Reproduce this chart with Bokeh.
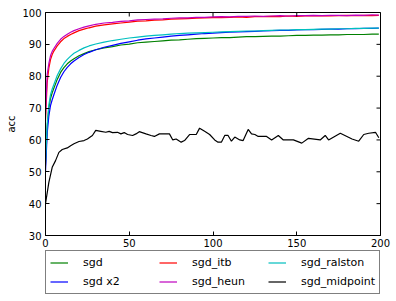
import math
from bokeh.plotting import figure
from bokeh.models import Legend, LegendItem, FixedTicker
from bokeh.layouts import column
from bokeh.embed import file_html
from bokeh.resources import INLINE

# ---- data ----
epochs = [0, 1, 2, 3, 4, 5, 7, 9, 11, 13, 15, 17, 20, 23, 26, 30, 35, 40, 45, 50,
          55, 60, 65, 70, 75, 80, 85, 90, 95, 100, 105, 110, 115, 120, 125, 130, 135,
          140, 145, 150, 155, 160, 165, 170, 175, 180, 185, 190, 195, 199]

sgd = [52, 64, 70, 73, 74.8, 76.2, 79.0, 81.2, 82.7, 83.9, 84.8, 85.5, 86.4, 87.1, 87.7,
       88.3, 88.9, 89.3, 89.8, 90.1, 90.5, 90.7, 90.9, 91.1, 91.3, 91.4, 91.6, 91.8, 91.9,
       92.0, 92.1, 92.1, 92.3, 92.4, 92.4, 92.5, 92.6, 92.6, 92.7, 92.8, 92.8, 92.9, 92.9,
       93.0, 93.0, 93.1, 93.1, 93.1, 93.2, 93.2]

sgd_x2 = [50, 62, 67.5, 70.8, 72.6, 74.2, 77.2, 79.6, 81.4, 82.8, 83.9, 84.8, 85.9, 86.8,
          87.5, 88.3, 89.1, 89.7, 90.3, 90.8, 91.3, 91.7, 92.0, 92.3, 92.6, 92.8, 93.0,
          93.2, 93.4, 93.5, 93.7, 93.8, 93.9, 94.0, 94.1, 94.2, 94.3, 94.4, 94.4, 94.5,
          94.6, 94.6, 94.7, 94.8, 94.8, 94.9, 94.9, 95.0, 95.0, 95.1]

sgd_itb = [66, 78, 82.5, 85.2, 86.8, 87.9, 89.5, 90.8, 91.8, 92.5, 93.1, 93.6, 94.3, 94.8,
           95.2, 95.7, 96.1, 96.4, 96.7, 97.0, 97.3, 97.4, 97.6, 97.7, 97.9, 98.0, 98.1,
           98.2, 98.3, 98.4, 98.4, 98.5, 98.6, 98.5, 98.7, 98.7, 98.8, 98.7, 98.9, 98.8,
           98.9, 98.9, 99.0, 98.9, 99.0, 99.1, 99.0, 99.1, 99.0, 99.1]

sgd_heun = [68, 80.5, 84, 86.5, 87.8, 88.7, 90.3, 91.6, 92.5, 93.2, 93.8, 94.3, 94.9, 95.4,
            95.8, 96.3, 96.7, 96.9, 97.2, 97.4, 97.7, 97.8, 97.9, 98.0, 98.2, 98.3, 98.3,
            98.5, 98.5, 98.6, 98.7, 98.6, 98.8, 98.8, 98.9, 98.8, 98.9, 99.0, 98.9, 99.0,
            99.0, 99.1, 99.0, 99.1, 99.1, 99.0, 99.2, 99.1, 99.3, 99.2]

sgd_ralston = [53, 65, 71, 74.2, 76, 77.4, 80.2, 82.3, 84.0, 85.3, 86.3, 87.2, 88.1, 88.9,
               89.5, 90.1, 90.7, 91.2, 91.6, 92.0, 92.3, 92.6, 92.8, 93.0, 93.2, 93.4, 93.5,
               93.6, 93.7, 93.8, 93.9, 94.0, 94.1, 94.2, 94.2, 94.3, 94.4, 94.5, 94.5, 94.6,
               94.6, 94.7, 94.8, 94.8, 94.9, 94.9, 95.0, 95.0, 95.1, 95.1]

mid_epochs = [0, 2, 4, 6, 8, 10, 13, 15, 17, 20, 23, 25, 28, 30, 33, 36, 38, 40, 43, 45, 47,
              49, 52, 54, 56, 60, 63, 65, 68, 71, 74, 76, 78, 81, 83, 86, 90, 92, 95, 98,
              101, 103, 105, 107, 109, 111, 113, 116, 118, 121, 123, 125, 127, 129, 132,
              135, 139, 142, 148, 153, 157, 164, 167, 169, 176, 183, 187, 190, 193, 197, 199]
sgd_midpoint = [40, 46.7, 51.4, 53.5, 56.1, 57, 57.5, 58.2, 58.8, 59.5, 59.8, 60.3, 61.4, 63,
                62.7, 62.4, 62.7, 62.3, 62.4, 61.9, 62.3, 61.7, 61.4, 61.9, 62.6, 61.9, 61.4,
                61.1, 61.9, 61.9, 61.9, 60, 60.3, 59.3, 59.8, 61.7, 61.7, 63.7, 62.7, 61.7,
                60, 59.3, 59.3, 61.4, 61.4, 59.6, 60.9, 60, 59.8, 63.3, 61.9, 61.7, 61.1,
                61.1, 61.1, 60, 61.4, 60, 60, 59, 60.5, 60, 61.4, 60, 62.1, 60.3, 59.6, 61.7,
                62.1, 62.4, 60.7]

x_ticks = [0, 50, 100, 150, 200]
y_ticks = [30, 40, 50, 60, 70, 80, 90, 100]
x_min, x_max = 0, 200
y_min, y_max = 30, 100

series = [
    ("sgd", epochs, sgd, "#008000"),
    ("sgd x2", epochs, sgd_x2, "#0000ff"),
    ("sgd_itb", epochs, sgd_itb, "#ff0000"),
    ("sgd_heun", epochs, sgd_heun, "#bf00bf"),
    ("sgd_ralston", epochs, sgd_ralston, "#00bfbf"),
    ("sgd_midpoint", mid_epochs, sgd_midpoint, "#000000"),
]

FONT = "DejaVu Sans"

# ---------------- main plot ----------------
p = figure(width=396, height=250, x_range=(x_min, x_max), y_range=(y_min, y_max),
           output_backend="svg", toolbar_location=None,
           min_border_left=45, min_border_right=16, min_border_top=12, min_border_bottom=15,
           background_fill_color="white", border_fill_color="white")
p.grid.visible = False
p.outline_line_color = "black"
p.outline_line_width = 1

for name, xs, ys, col in series:
    p.line(xs, ys, line_color=col, line_width=1.2)

# inward tick marks on the top and right spines (matplotlib classic style)
p.scatter(x_ticks, [y_max] * len(x_ticks), marker="dash", angle=math.pi / 2, size=8,
          line_color="black", line_width=1)
p.scatter([x_max] * len(y_ticks), y_ticks, marker="dash", size=8,
          line_color="black", line_width=1)

p.xaxis.ticker = FixedTicker(ticks=x_ticks)
p.yaxis.ticker = FixedTicker(ticks=y_ticks)
p.yaxis.axis_label = "acc"

for ax in list(p.xaxis) + list(p.yaxis):
    ax.major_tick_in = 4
    ax.major_tick_out = 0
    ax.minor_tick_line_color = None
    ax.major_tick_line_color = "black"
    ax.axis_line_color = "black"
    ax.major_label_text_font = FONT
    ax.major_label_text_font_size = "10px"
    ax.major_label_text_color = "black"
    ax.major_label_standoff = 4
    ax.axis_label_text_font = FONT
    ax.axis_label_text_font_size = "10px"
    ax.axis_label_text_font_style = "normal"
    ax.axis_label_text_color = "black"
    ax.axis_label_standoff = 2
p.xaxis.major_label_standoff = 3

# ---------------- legend strip below the plot ----------------
# The strip's y range (0..1) lies below every accuracy value, so these lines
# stay out of view and only serve as legend glyph sources.
lg = figure(width=396, height=51, x_range=(x_min, x_max), y_range=(0, 1),
            output_backend="svg", toolbar_location=None,
            x_axis_type=None, y_axis_type=None,
            min_border_left=0, min_border_right=0, min_border_top=0, min_border_bottom=0,
            background_fill_color="white", border_fill_color="white")
lg.grid.visible = False
lg.outline_line_color = None

renderers = {}
for name, xs, ys, col in series:
    renderers[name] = lg.line(xs, ys, line_color=col, line_width=1.2)

# column-major order as in the reference: (sgd, sgd x2) (sgd_itb, sgd_heun) (sgd_ralston, sgd_midpoint)
order = ["sgd", "sgd_itb", "sgd_ralston", "sgd x2", "sgd_heun", "sgd_midpoint"]
items = [LegendItem(label=n, renderers=[renderers[n]]) for n in order]

legend = Legend(items=items, location=(0, 7), orientation="horizontal", ncols=3, nrows=2,
                label_text_font=FONT, label_text_font_size="11px", label_text_color="black",
                glyph_width=18, glyph_height=15, label_height=15, label_width=72,
                label_standoff=15, spacing=4, padding=4, margin=0,
                border_line_color="black", border_line_width=1,
                background_fill_color="white", background_fill_alpha=1.0)
lg.add_layout(legend, "center")

layout = column(p, lg, spacing=0)
open("out.html", "w").write(file_html(layout, INLINE))
